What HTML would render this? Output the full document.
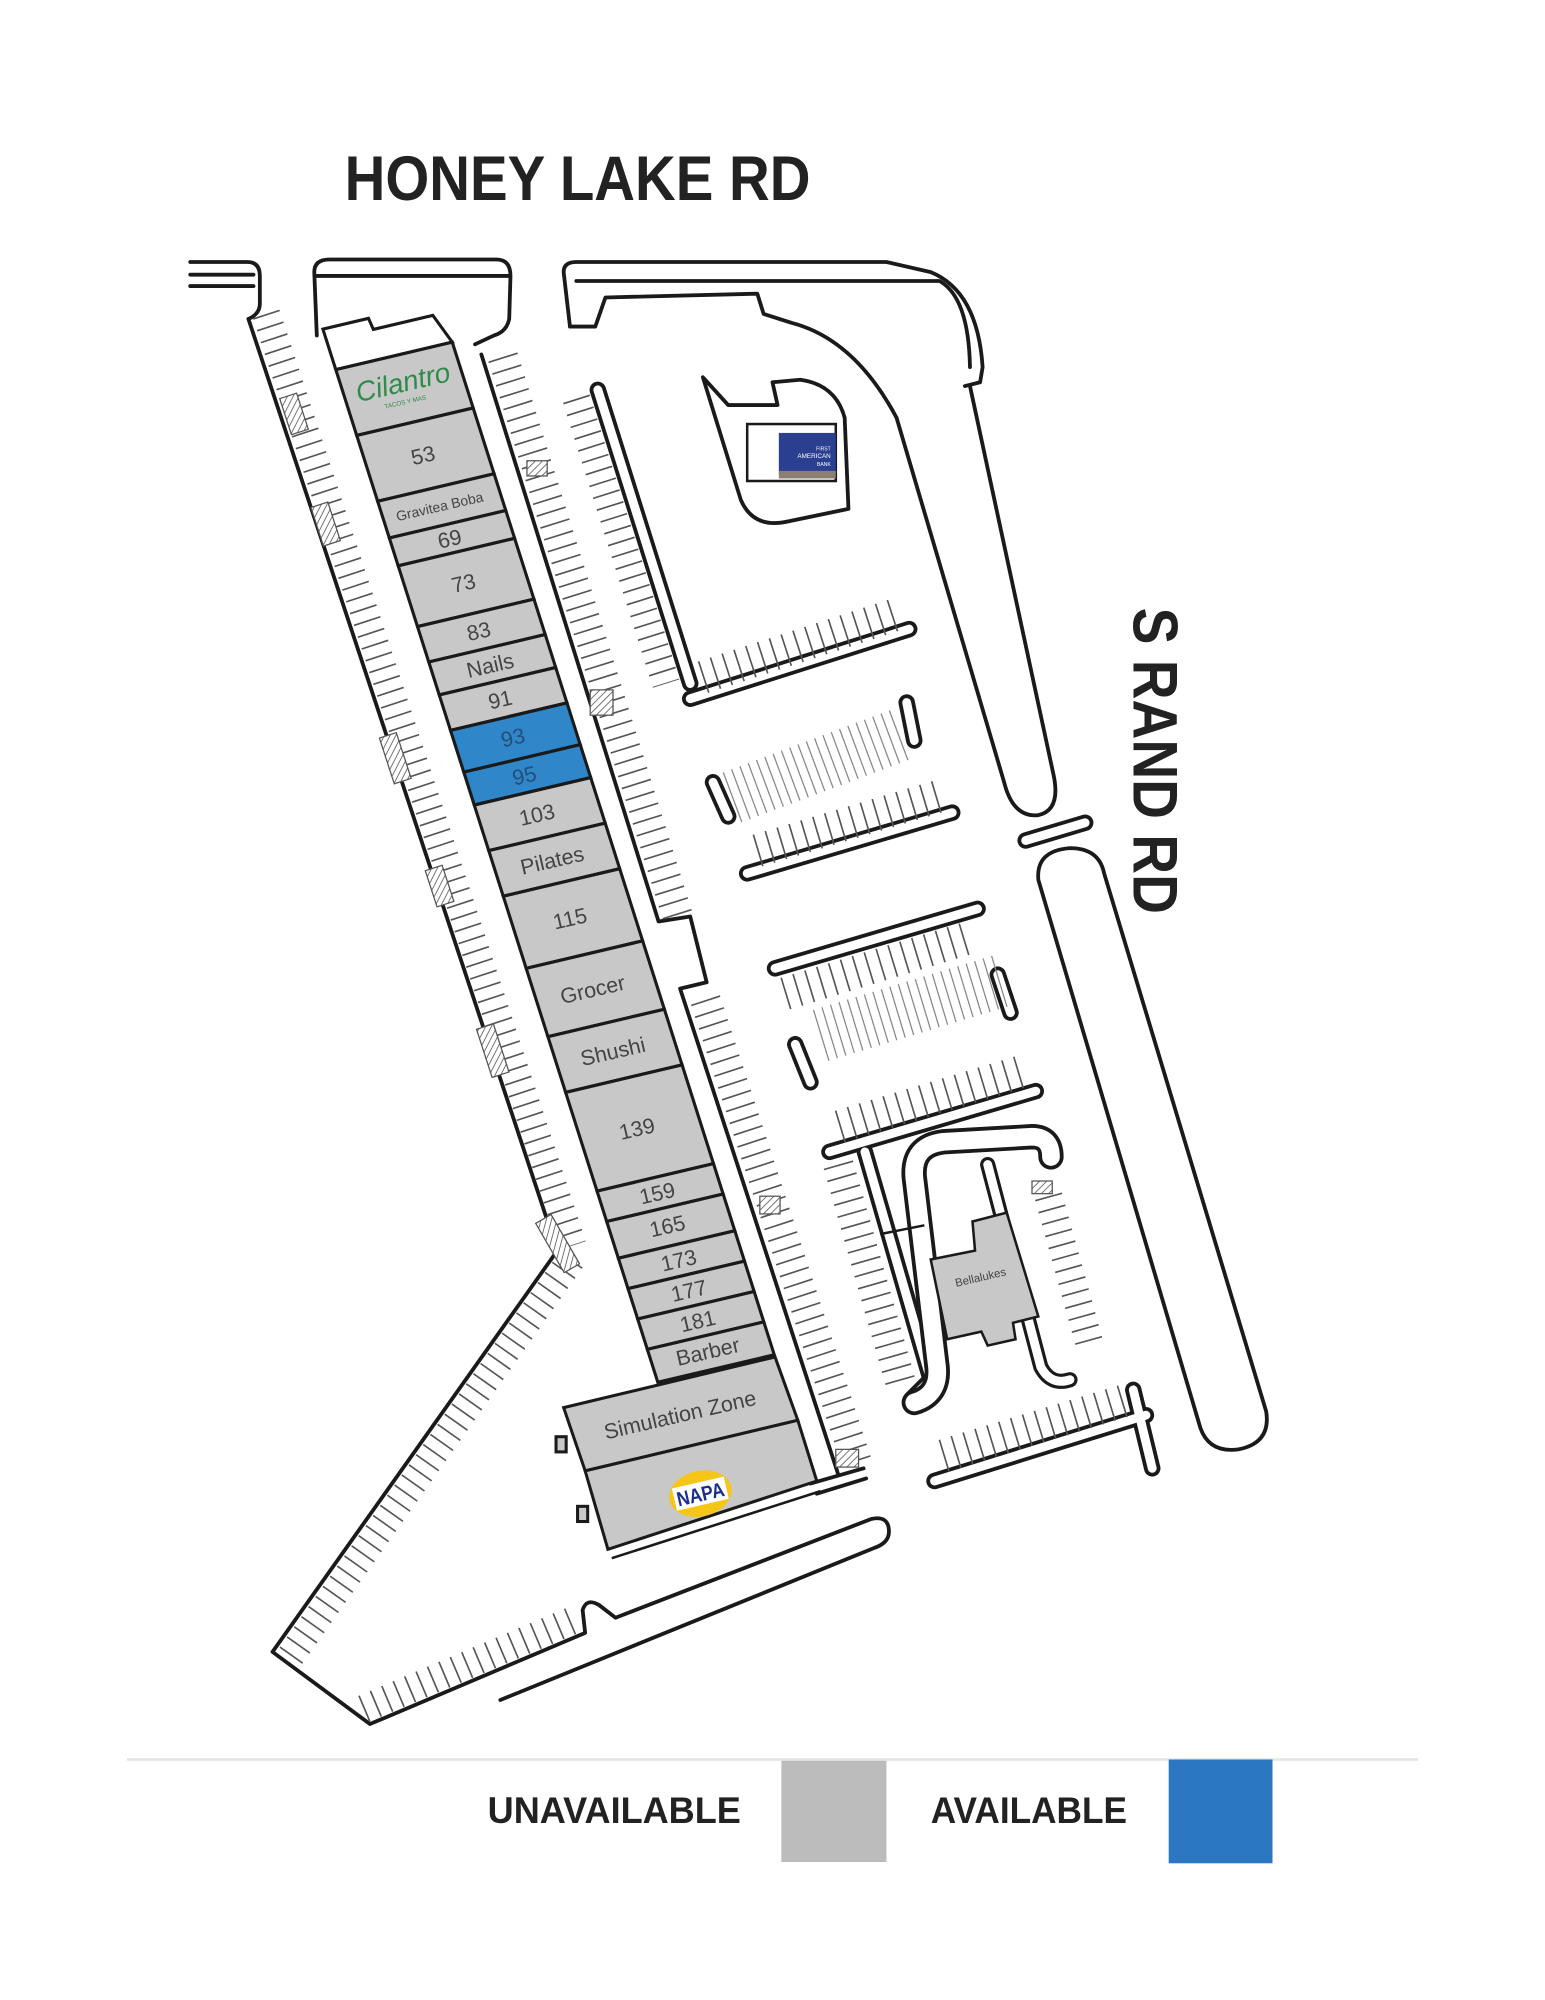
<!DOCTYPE html>
<html><head><meta charset="utf-8"><style>
html,body{margin:0;padding:0;background:#fff;}
svg{display:block;}
text{font-family:"Liberation Sans",sans-serif;}
</style></head><body>
<svg width="1545" height="2000" viewBox="0 0 1220 1580" xmlns="http://www.w3.org/2000/svg">
<defs>
<pattern id="h" width="4" height="4" patternUnits="userSpaceOnUse" patternTransform="rotate(45)"><rect width="4" height="4" fill="#fff"/><line x1="0" y1="0" x2="0" y2="4" stroke="#666" stroke-width="1.4"/></pattern>
</defs>
<rect width="1220" height="1580" fill="#fff"/>
<text x="272" y="158" font-size="50" font-weight="bold" fill="#222" textLength="368" lengthAdjust="spacingAndGlyphs">HONEY LAKE RD</text>
<text transform="translate(895,480) rotate(90)" font-size="50" font-weight="bold" fill="#222" textLength="242" lengthAdjust="spacingAndGlyphs">S RAND RD</text>

<g fill="none" stroke="#1a1a1a" stroke-width="3" stroke-linejoin="round" stroke-linecap="round">
<path d="M150,207 L195,207 Q205,207 205,218 L205,240 Q205,248 196,252"/>
<path d="M150,217 L200,217 M150,226 L200,226"/>
<path d="M250,265 L248,215 Q248,205 260,205 L392,205 Q403,205 403,218 L402,252 Q400,262 390,265 L375,272"/>
<path d="M250,218 L402,218"/>
<path d="M196,252 L440,988 L215,1305 L292,1362 L462,1290 L460,1272 Q463,1262 473,1268 L486,1278 L688,1200 Q702,1197 702,1210 Q702,1219 690,1223 L395,1343"/>
<path d="M380,280 L520,728 L545,724 L558,776 L537,781 L662,1165"/>
<path d="M640,1172 L682,1160 M645,1180 L684,1168"/>
<path d="M450,258 L445,215 Q445,207 455,207 L700,207 L735,215 Q772,230 776,290 L774,302 L762,305"/>
<path d="M455,222 L742,222 Q765,235 766,290"/>
<path d="M450,258 L470,258 L478,235 L598,232 L603,248 L625,255 Q675,268 708,330"/>
<path d="M708,330 L793,618 Q800,646 820,644 Q838,640 832,612 L766,305"/>
<path d="M555,298 L585,395 Q595,418 622,412 L670,402 L667,330 Q660,304 632,300 L610,302 L614,320 L575,320 Z"/>
<path d="M820,695 Q818,672 845,670 Q868,670 872,690 L1000,1115 Q1004,1140 978,1145 Q955,1148 948,1128 Z"/>
</g>
<g stroke-linecap="round" fill="none">
<g stroke="#1a1a1a" stroke-width="13">
<line x1="472" y1="308" x2="545" y2="540"/>
<line x1="545" y1="552" x2="718" y2="497"/>
<line x1="590" y1="690" x2="752" y2="642"/>
<line x1="612" y1="765" x2="772" y2="718"/>
<line x1="655" y1="910" x2="818" y2="862"/>
<line x1="738" y1="1170" x2="905" y2="1118"/>
<line x1="895" y1="1098" x2="910" y2="1160"/>
<line x1="810" y1="664" x2="857" y2="650"/>
<line x1="563" y1="618" x2="575" y2="645"/>
<line x1="716" y1="555" x2="722" y2="585"/>
<line x1="628" y1="825" x2="640" y2="855"/>
<line x1="788" y1="770" x2="798" y2="800"/>
<line x1="683" y1="910" x2="735" y2="1090"/>
<line x1="735" y1="1090" x2="720" y2="1105"/>
</g>
<g stroke="#fff" stroke-width="7">
<line x1="472" y1="308" x2="545" y2="540"/>
<line x1="545" y1="552" x2="718" y2="497"/>
<line x1="590" y1="690" x2="752" y2="642"/>
<line x1="612" y1="765" x2="772" y2="718"/>
<line x1="655" y1="910" x2="818" y2="862"/>
<line x1="738" y1="1170" x2="905" y2="1118"/>
<line x1="895" y1="1098" x2="910" y2="1160"/>
<line x1="810" y1="664" x2="857" y2="650"/>
<line x1="563" y1="618" x2="575" y2="645"/>
<line x1="716" y1="555" x2="722" y2="585"/>
<line x1="628" y1="825" x2="640" y2="855"/>
<line x1="788" y1="770" x2="798" y2="800"/>
<line x1="683" y1="910" x2="735" y2="1090"/>
<line x1="735" y1="1090" x2="720" y2="1105"/>
</g>
<path d="M722,1108 Q742,1102 740,1080 L722,930 Q720,905 745,902 L815,898 Q830,898 830,914" stroke="#1a1a1a" stroke-width="20"/>
<path d="M722,1108 Q742,1102 740,1080 L722,930 Q720,905 745,902 L815,898 Q830,898 830,914" stroke="#fff" stroke-width="14"/>
<path d="M780,920 L822,1080 Q830,1095 845,1090" stroke="#1a1a1a" stroke-width="12"/>
<path d="M780,920 L822,1080 Q830,1095 845,1090" stroke="#fff" stroke-width="7"/>
</g>
<line x1="695" y1="975" x2="730" y2="968" stroke="#1a1a1a" stroke-width="2"/>
<path d="M735,995 L770,988 L768,965 L795,958 L820,1040 L800,1045 L802,1058 L780,1063 L775,1052 L748,1058 Z" fill="#c8c8c8" stroke="#1a1a1a" stroke-width="2"/>
<text x="775" y="1012" font-size="9" fill="#444" text-anchor="middle" transform="rotate(-13 775 1012)">Bellalukes</text>

<g fill="none" stroke="#555" stroke-dasharray="1.3 8.5">
<line x1="210" y1="248" x2="452" y2="984" stroke-width="22"/>
<line x1="451" y1="995" x2="226" y2="1313" stroke-width="22"/>
<line x1="287" y1="1350" x2="457" y2="1278" stroke-width="22"/>
<line x1="397" y1="282" x2="537" y2="730" stroke-width="24"/>
<line x1="557" y1="790" x2="678" y2="1160" stroke-width="24"/>
<line x1="455" y1="315" x2="526" y2="540" stroke-width="22"/>
<line x1="555" y1="535" x2="712" y2="484" stroke-width="26"/>
<line x1="598" y1="672" x2="745" y2="628" stroke-width="26"/>
<line x1="620" y1="785" x2="768" y2="740" stroke-width="26"/>
<line x1="663" y1="890" x2="812" y2="845" stroke-width="26"/>
<line x1="662" y1="920" x2="712" y2="1095" stroke-width="24"/>
<line x1="828" y1="945" x2="860" y2="1060" stroke-width="22"/>
<line x1="745" y1="1150" x2="890" y2="1106" stroke-width="26"/>
</g>
<g fill="none" stroke="#888" stroke-dasharray="1 6">
<line x1="578" y1="630" x2="712" y2="580" stroke-width="42"/>
<line x1="648" y1="818" x2="790" y2="775" stroke-width="42"/>
</g>
<g fill="url(#h)" stroke="#555" stroke-width="1">
<rect x="225" y="312" width="14" height="30" transform="rotate(-18 232 327)"/>
<rect x="250" y="398" width="14" height="32" transform="rotate(-18 257 414)"/>
<rect x="305" y="580" width="14" height="38" transform="rotate(-18 312 599)"/>
<rect x="340" y="685" width="14" height="30" transform="rotate(-18 347 700)"/>
<rect x="382" y="810" width="14" height="40" transform="rotate(-18 389 830)"/>
<rect x="433" y="960" width="14" height="45" transform="rotate(-30 440 982)"/>
<rect x="416" y="364" width="16" height="12"/>
<rect x="466" y="545" width="18" height="20"/>
<rect x="600" y="945" width="16" height="14"/>
<rect x="660" y="1145" width="18" height="14"/>
<rect x="815" y="933" width="16" height="10"/>
</g>

<g transform="matrix(1,-0.236,0.318,1,265,292)" stroke="#1a1a1a" stroke-width="2.4">
<path d="M0,-32 L36,-32 L37,-23 L84,-23 L92,0 L0,0 Z" fill="#fff"/>
<rect x="0" y="0" width="92" height="52" fill="#c8c8c8"/>
<rect x="0" y="52" width="92" height="52" fill="#c8c8c8"/>
<rect x="0" y="104" width="92" height="29" fill="#c8c8c8"/>
<rect x="0" y="133" width="92" height="22" fill="#c8c8c8"/>
<rect x="0" y="155" width="92" height="48" fill="#c8c8c8"/>
<rect x="0" y="203" width="92" height="28" fill="#c8c8c8"/>
<rect x="0" y="231" width="92" height="26" fill="#c8c8c8"/>
<rect x="0" y="257" width="92" height="28" fill="#c8c8c8"/>
<rect x="0" y="285" width="92" height="33" fill="#2f86c8"/>
<rect x="0" y="318" width="92" height="26" fill="#2f86c8"/>
<rect x="0" y="344" width="92" height="36" fill="#c8c8c8"/>
<rect x="0" y="380" width="92" height="36" fill="#c8c8c8"/>
<rect x="0" y="416" width="92" height="57" fill="#c8c8c8"/>
<rect x="0" y="473" width="92" height="54" fill="#c8c8c8"/>
<rect x="0" y="527" width="92" height="44" fill="#c8c8c8"/>
<rect x="0" y="571" width="92" height="78" fill="#c8c8c8"/>
<rect x="0" y="649" width="92" height="24" fill="#c8c8c8"/>
<rect x="0" y="673" width="92" height="29" fill="#c8c8c8"/>
<rect x="0" y="702" width="92" height="24" fill="#c8c8c8"/>
<rect x="0" y="726" width="92" height="24" fill="#c8c8c8"/>
<rect x="0" y="750" width="92" height="24" fill="#c8c8c8"/>
<rect x="0" y="774" width="92" height="26" fill="#c8c8c8"/>
</g>
<g fill="#c8c8c8" stroke="#1a1a1a" stroke-width="2.4">
<polygon points="445,1112 612,1072 630,1122 462,1162"/>
<polygon points="462,1162 630,1122 645,1170 480,1224"/>
<rect x="439" y="1135" width="8" height="12"/>
<rect x="456" y="1190" width="8" height="12"/>
</g>
<line x1="483" y1="1231" x2="648" y2="1178" stroke="#1a1a1a" stroke-width="2"/>

<g font-size="17" fill="#444" text-anchor="middle" dominant-baseline="central">
<text x="318" y="302" transform="rotate(-13 318 302)" fill="#2e8b4a" font-style="italic" font-family="Liberation Serif" font-size="22">Cilantro</text>
<text x="320" y="318" transform="rotate(-13 320 318)" fill="#2e8b4a" font-size="5">TACOS Y MAS</text>
<text x="334" y="360" transform="rotate(-13 334 360)">53</text>
<text x="347" y="400" transform="rotate(-13 347 400)" font-size="11">Gravitea Boba</text>
<text x="355" y="426" transform="rotate(-13 355 426)">69</text>
<text x="366" y="461" transform="rotate(-13 366 461)">73</text>
<text x="378" y="499" transform="rotate(-13 378 499)">83</text>
<text x="387" y="526" transform="rotate(-13 387 526)">Nails</text>
<text x="395" y="553" transform="rotate(-13 395 553)">91</text>
<text x="405" y="583" transform="rotate(-13 405 583)" fill="#244f78">93</text>
<text x="414" y="613" transform="rotate(-13 414 613)" fill="#244f78">95</text>
<text x="424" y="644" transform="rotate(-13 424 644)">103</text>
<text x="436" y="680" transform="rotate(-13 436 680)">Pilates</text>
<text x="450" y="726" transform="rotate(-13 450 726)">115</text>
<text x="468" y="782" transform="rotate(-13 468 782)">Grocer</text>
<text x="484" y="831" transform="rotate(-13 484 831)">Shushi</text>
<text x="503" y="892" transform="rotate(-13 503 892)">139</text>
<text x="519" y="943" transform="rotate(-13 519 943)">159</text>
<text x="527" y="969" transform="rotate(-13 527 969)">165</text>
<text x="536" y="996" transform="rotate(-13 536 996)">173</text>
<text x="544" y="1020" transform="rotate(-13 544 1020)">177</text>
<text x="551" y="1044" transform="rotate(-13 551 1044)">181</text>
<text x="559" y="1068" transform="rotate(-13 559 1068)">Barber</text>
<text x="537" y="1118" transform="rotate(-13 537 1118)">Simulation Zone</text>
</g>
<g transform="rotate(-13 553 1180)">
<ellipse cx="553" cy="1180" rx="25" ry="18" fill="#f5c518"/>
<rect x="532" y="1171" width="42" height="18" fill="#fff"/>
<text x="553" y="1186" font-size="16" font-weight="bold" fill="#1b2f8a" text-anchor="middle" textLength="38" lengthAdjust="spacingAndGlyphs">NAPA</text>
</g>
<rect x="590" y="335" width="70" height="45" fill="#fff" stroke="#1a1a1a" stroke-width="2"/>
<rect x="615" y="342" width="45" height="32" fill="#2a3f8f"/>
<rect x="615" y="372" width="45" height="6" fill="#8a7f72"/>
<text x="656" y="356" font-size="4" fill="#fff" text-anchor="end">FIRST</text>
<text x="656" y="362" font-size="5" fill="#fff" text-anchor="end">AMERICAN</text>
<text x="656" y="368" font-size="4" fill="#fff" text-anchor="end">BANK</text>

<line x1="100" y1="1390" x2="1120" y2="1390" stroke="#e4e4e4" stroke-width="2"/>
<text x="385" y="1440" font-size="29" font-weight="bold" fill="#222" textLength="200" lengthAdjust="spacingAndGlyphs">UNAVAILABLE</text>
<rect x="617" y="1391" width="83" height="80" fill="#bcbcbc"/>
<text x="735" y="1440" font-size="29" font-weight="bold" fill="#222" textLength="155" lengthAdjust="spacingAndGlyphs">AVAILABLE</text>
<rect x="923" y="1390" width="82" height="82" fill="#2b78c0"/>
</svg>
</body></html>
